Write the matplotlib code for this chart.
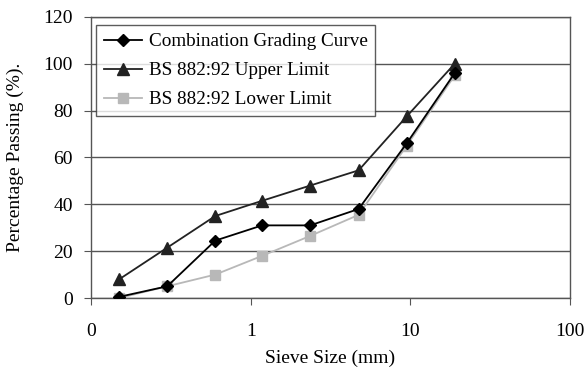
import numpy as np
import matplotlib.pyplot as plt
from matplotlib.ticker import FixedLocator, FixedFormatter, NullLocator

plt.rcParams['font.family'] = ['Liberation Serif', 'DejaVu Serif']

# sieve sizes (mm) and percentage passing
sieve = [0.15, 0.3, 0.6, 1.18, 2.36, 4.75, 9.5, 19]
combination = [0.5, 5, 24.5, 31, 31, 38, 66, 96]
upper = [8, 21.5, 35, 41.5, 48, 54.5, 77.5, 100]
lower = [0, 5, 10, 18, 26.5, 35.5, 65, 95]

xticks = [0.1, 1, 10, 100]
xticklabels = ["0", "1", "10", "100"]

fig = plt.figure(figsize=(5.88, 3.67), dpi=100)
ax = fig.add_axes([0.155, 0.188, 0.814, 0.766])

ax.plot(sieve, combination, color='black', marker='D', ms=6.5, lw=1.3,
        label="Combination Grading Curve", zorder=4)
ax.plot(sieve, upper, color='#222222', marker='^', ms=9, lw=1.3,
        label="BS 882:92 Upper Limit", zorder=3)
ax.plot(sieve, lower, color='#b8b8b8', marker='s', ms=7.5, lw=1.3,
        label="BS 882:92 Lower Limit", zorder=2)

ax.set_xscale('log')
ax.set_xlim(0.1, 100)
ax.set_ylim(0, 120)
ax.xaxis.set_major_locator(FixedLocator(xticks))
ax.xaxis.set_major_formatter(FixedFormatter(xticklabels))
ax.xaxis.set_minor_locator(NullLocator())
ax.set_yticks(np.arange(0, 121, 20))

ax.yaxis.grid(True, color='#555555', lw=1)
ax.set_axisbelow(True)
for s in ax.spines.values():
    s.set_color('#555555')
    s.set_linewidth(1)
ax.tick_params(axis='both', direction='out', length=5, color='#555555',
               labelsize=14)
ax.tick_params(axis='x', pad=13)
ax.tick_params(axis='y', pad=8)

ax.set_xlabel("Sieve Size (mm)", fontsize=14, labelpad=7)
ax.set_ylabel("Percentage Passing (%).", fontsize=14, labelpad=14)

leg = ax.legend(loc='upper left', bbox_to_anchor=(0.01, 0.97), fontsize=13.8,
                frameon=True, fancybox=False, edgecolor='#333333',
                handlelength=2.0, borderpad=0.4, labelspacing=0.6,
                handletextpad=0.35, borderaxespad=0.0)
leg.get_frame().set_linewidth(1)

fig.savefig("out.png", dpi=100)
